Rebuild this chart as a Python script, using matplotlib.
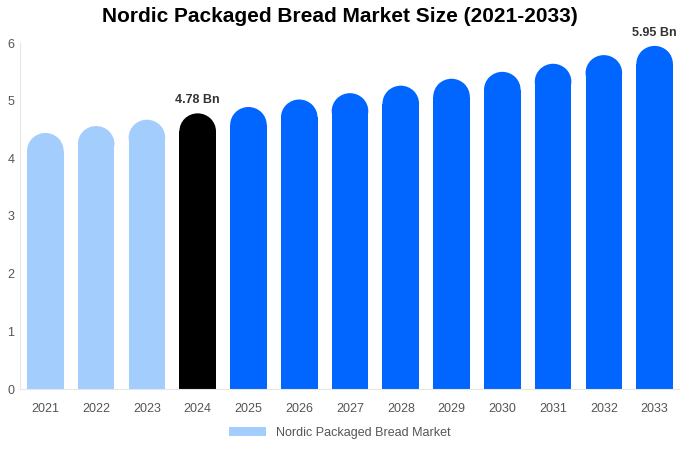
import matplotlib
matplotlib.use("Agg")
import matplotlib.pyplot as plt
from matplotlib.patches import Ellipse

plt.rcParams['font.family'] = ['Liberation Sans', 'DejaVu Sans']

years = ['2021', '2022', '2023', '2024', '2025', '2026', '2027',
         '2028', '2029', '2030', '2031', '2032', '2033']
values = [4.44, 4.56, 4.67, 4.78, 4.89, 5.02, 5.13, 5.26, 5.38, 5.50, 5.64, 5.79, 5.95]
colors = ['#a3cdfd'] * 3 + ['#000000'] + ['#0066ff'] * 9

fig = plt.figure(figsize=(6.8, 4.5), dpi=100)
ax = fig.add_axes([20 / 680, 61 / 450, 660 / 680, 346 / 450])

width = 0.72
cap = 0.62  # cap height in data units (round top)
x = list(range(len(years)))
for xi, v, c in zip(x, values, colors):
    ax.bar(xi, v - cap / 2, width=width, color=c, linewidth=0)
    ax.add_patch(Ellipse((xi, v - cap / 2), width, cap, facecolor=c,
                         edgecolor='none'))

ax.bar([0], [0], color='#a3cdfd', label='Nordic Packaged Bread Market')

ax.text(3, 4.78 + 0.12, '4.78 Bn', ha='center', va='bottom', fontsize=9,
        fontweight='bold', color='#333333')
ax.text(12, 5.95 + 0.12, '5.95 Bn', ha='center', va='bottom', fontsize=9,
        fontweight='bold', color='#333333')

ax.set_xlim(-0.5, 12.5)
ax.set_ylim(0, 6)
ax.set_xticks(x)
ax.set_xticklabels(years)
ax.set_yticks(range(7))
ax.tick_params(axis='both', length=0, labelsize=9, colors='#555555')
ax.tick_params(axis='y', pad=9)
ax.tick_params(axis='x', pad=10)
for lbl in ax.get_yticklabels():
    lbl.set_horizontalalignment('left')
for s in ['top', 'right']:
    ax.spines[s].set_visible(False)
ax.spines['left'].set_color('#e6e6e6')
ax.spines['bottom'].set_color('#e6e6e6')

fig.suptitle('Nordic Packaged Bread Market Size (2021-2033)', fontsize=15,
             fontweight='bold', y=0.985)
fig.legend(loc='lower center', bbox_to_anchor=(0.5, 0.0), frameon=False,
           fontsize=9, handlelength=3, labelcolor='#555555')

fig.savefig('out.png')
